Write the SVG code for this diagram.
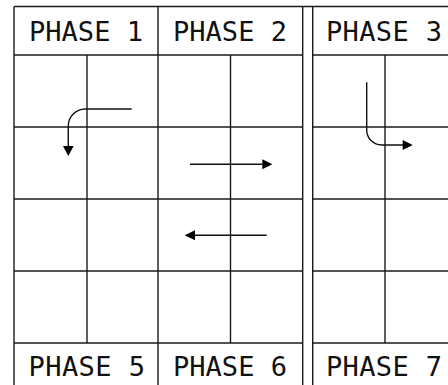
<svg xmlns="http://www.w3.org/2000/svg" width="448" height="385" viewBox="0 0 448 385">
<defs>
<style>
.g{stroke:#1a1a1a;stroke-width:1.4;fill:none}
.a{stroke:#111;stroke-width:1.4;fill:none}
.h{fill:#000}
.t{font-family:"DejaVu Sans Mono","Liberation Mono",monospace;font-size:27px;fill:#111}
</style>
</defs>
<rect width="448" height="385" fill="#fff"/>
<g id="grid" class="g">
<line x1="14" y1="6.5" x2="448" y2="6.5"/>
<line x1="14" y1="55" x2="302.7" y2="55"/><line x1="312.7" y1="55" x2="448" y2="55"/>
<line x1="14" y1="127" x2="302.7" y2="127"/><line x1="312.7" y1="127" x2="448" y2="127"/>
<line x1="14" y1="199" x2="302.7" y2="199"/><line x1="312.7" y1="199" x2="448" y2="199"/>
<line x1="14" y1="271" x2="302.7" y2="271"/><line x1="312.7" y1="271" x2="448" y2="271"/>
<line x1="14" y1="343" x2="302.7" y2="343"/><line x1="312.7" y1="343" x2="448" y2="343"/>
<line x1="14" y1="6.5" x2="14" y2="385"/>
<line x1="158" y1="6.5" x2="158" y2="385"/>
<line x1="302.7" y1="6.5" x2="302.7" y2="385"/>
<line x1="312.7" y1="6.5" x2="312.7" y2="385"/>
<line x1="87" y1="55" x2="87" y2="343"/>
<line x1="230.5" y1="55" x2="230.5" y2="343"/>
<line x1="385" y1="55" x2="385" y2="343"/>
</g>
<g id="phase1"><text class="t" x="29" y="41" textLength="114" lengthAdjust="spacing">PHASE 1</text></g>
<g id="phase2"><text class="t" x="173" y="41" textLength="114" lengthAdjust="spacing">PHASE 2</text></g>
<g id="phase3"><text class="t" x="326" y="41" textLength="116" lengthAdjust="spacing">PHASE 3</text></g>
<g id="phase5"><text class="t" x="28.5" y="376" textLength="116.5" lengthAdjust="spacing">PHASE 5</text></g>
<g id="phase6"><text class="t" x="173" y="376" textLength="114" lengthAdjust="spacing">PHASE 6</text></g>
<g id="phase7"><text class="t" x="326" y="376" textLength="116" lengthAdjust="spacing">PHASE 7</text></g>
<g id="connectors">
<path class="a" d="M131.7 109 H85 A17 17 0 0 0 68.3 126 V146"/>
<polygon class="h" points="63,146 73.6,146 68.3,156"/>
<path class="a" d="M190 164.3 H262.5"/>
<polygon class="h" points="262.3,159.3 262.3,169.3 272.3,164.3"/>
<path class="a" d="M266.7 235.3 H195"/>
<polygon class="h" points="195,230.3 195,240.3 184.7,235.3"/>
<path class="a" d="M366.7 82.3 V130 A15 15 0 0 0 381.7 145 H403"/>
<polygon class="h" points="402.7,140 402.7,150 412.7,145"/>
</g>
</svg>
